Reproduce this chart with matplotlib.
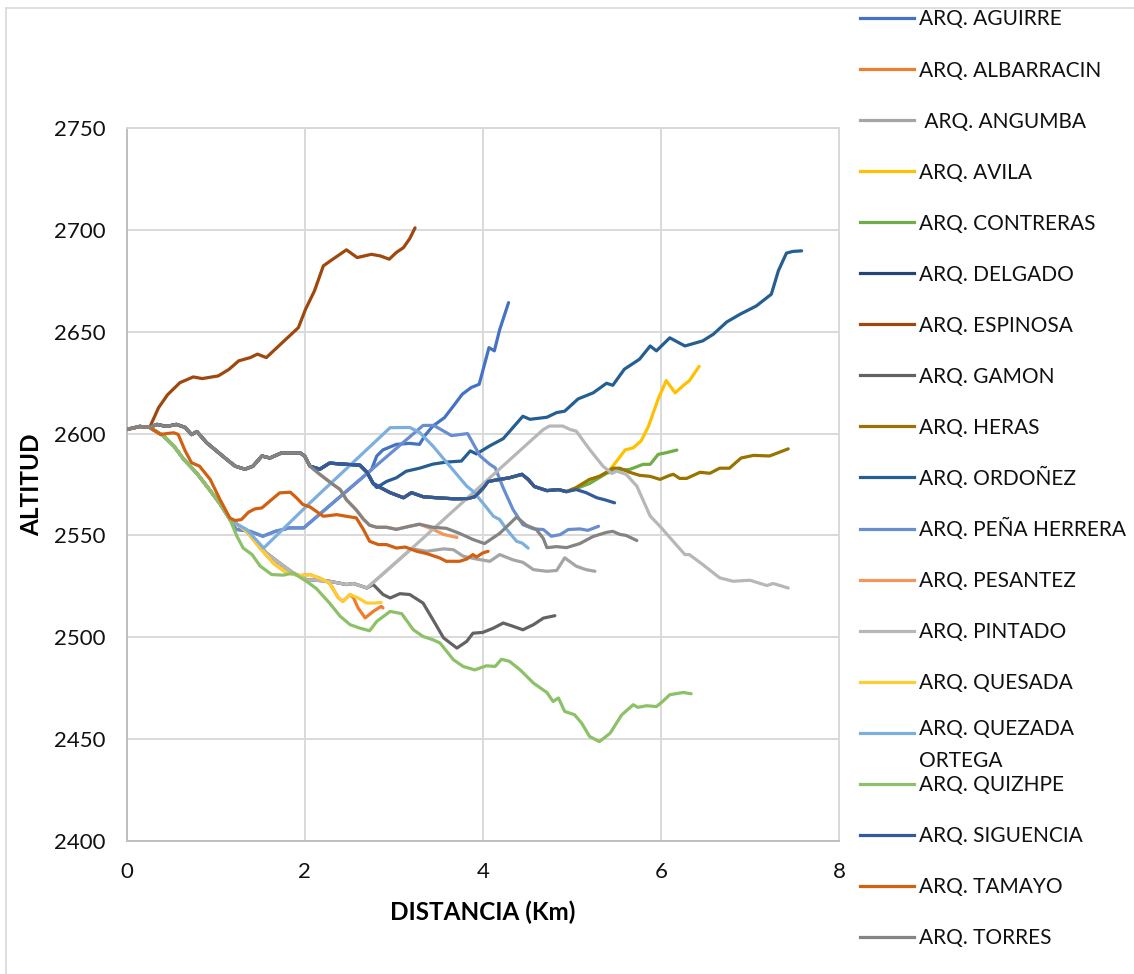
import matplotlib
matplotlib.use("Agg")
import matplotlib.pyplot as plt
from matplotlib.lines import Line2D
import numpy as np

plt.rcParams['font.family'] = ['Lato', 'DejaVu Sans']

# shared start of every route
trunk_x = [0, 0.15, 0.26]
trunk_y = [2602, 2603.5, 2603]

# upper path (Torres and the ones that split from it)
upper_x = [0.34, 0.45, 0.56, 0.66, 0.73, 0.79, 0.90, 1.01, 1.12, 1.22, 1.33, 1.42, 1.52, 1.61, 1.74, 1.95, 2.00, 2.06]
upper_y = [2604.5, 2603.5, 2604.5, 2603, 2599.5, 2601, 2595.5, 2591.5, 2587.5, 2584, 2582.5, 2584, 2589, 2588, 2590.5, 2590.5, 2589, 2584]

torres_x = [2.17, 2.32, 2.40, 2.47, 2.58, 2.66, 2.73, 2.81, 2.92, 3.03, 3.18, 3.29, 3.44, 3.59, 3.74, 3.89, 4.02, 4.19,
            4.38, 4.49, 4.60, 4.68, 4.72, 4.83, 4.94, 5.09, 5.24, 5.39, 5.46, 5.54, 5.61, 5.73]
torres_y = [2580, 2575, 2572.5, 2567.5, 2562.5, 2558, 2555, 2554, 2554, 2553, 2554.5, 2555.5, 2554, 2553.5, 2551, 2548, 2546, 2551,
            2559, 2555, 2553, 2548.5, 2544, 2544.5, 2544, 2546, 2549.5, 2551.5, 2552, 2550.5, 2550, 2547.5]

pesantez_x = [3.44, 3.56, 3.71]
pesantez_y = [2553, 2550.5, 2549]

delgado_x = [2.17, 2.28, 2.43, 2.62, 2.70, 2.77, 2.85, 2.96, 3.11, 3.20, 3.33, 3.48, 3.67, 3.82, 3.91, 4.0, 4.06, 4.19,
             4.30, 4.44, 4.51, 4.58, 4.72, 4.85, 4.94]
delgado_y = [2582.5, 2585.5, 2585, 2584.5, 2581, 2575.5, 2573.5, 2571, 2568.5, 2571, 2569, 2568.5, 2568, 2568, 2569, 2573, 2576.5, 2577.5,
             2578.3, 2580, 2577.5, 2574, 2572, 2572.5, 2571.5]

siguencia_x = [5.05, 5.16, 5.28, 5.37, 5.48]
siguencia_y = [2572.5, 2571, 2568.5, 2567.5, 2566]

heras_x = [5.05, 5.20, 5.31, 5.41, 5.46, 5.54, 5.65, 5.76, 5.88, 5.99, 6.10, 6.14, 6.21, 6.29, 6.44, 6.55, 6.66, 6.77,
           6.90, 7.04, 7.22, 7.43]
heras_y = [2573.5, 2577.5, 2579, 2581.5, 2583, 2583, 2581, 2579.5, 2579, 2577.5, 2579.5, 2580, 2578, 2578, 2581, 2580.5, 2583, 2583,
           2588, 2589.3, 2589, 2592.5]

avila_x = [5.46, 5.60, 5.69, 5.78, 5.86, 5.97, 6.06, 6.16, 6.25, 6.32, 6.43]
avila_y = [2584, 2592, 2593, 2596.5, 2603.5, 2617, 2626, 2620, 2623.5, 2626, 2633]

contreras_x = [5.05, 5.20, 5.39, 5.50, 5.65, 5.80, 5.88, 5.97, 6.06, 6.18]
contreras_y = [2573, 2575.5, 2580.5, 2582, 2582.4, 2584.9, 2584.9, 2589.8, 2590.6, 2591.9]

ordonez_x = [2.81, 2.92, 3.03, 3.14, 3.29, 3.44, 3.59, 3.76, 3.86, 3.93, 4.08, 4.23, 4.34, 4.45, 4.53, 4.72, 4.83, 4.92,
             5.07, 5.24, 5.39, 5.46, 5.59, 5.76, 5.88, 5.95, 6.10, 6.27, 6.47, 6.59, 6.74, 6.89, 7.07, 7.24, 7.32, 7.41,
             7.48, 7.58]
ordonez_y = [2573.5, 2576.5, 2578.3, 2581.5, 2583, 2585, 2586, 2586.5, 2591.5, 2590, 2594, 2597.5, 2603, 2608.5, 2607, 2608, 2610.3, 2611,
             2617, 2620, 2624.7, 2623.7, 2631.6, 2636.5, 2643, 2640.6, 2647, 2643, 2645.5, 2648.8, 2654.8, 2658.6, 2662.6, 2668.4, 2680, 2688.6,
             2689.4, 2689.7]

espinosa_x = [0.36, 0.46, 0.60, 0.75, 0.85, 1.03, 1.15, 1.26, 1.39, 1.47, 1.57, 1.67, 1.79, 1.93, 2.01, 2.11, 2.21, 2.29,
              2.37, 2.47, 2.59, 2.75, 2.85, 2.95, 3.03, 3.11, 3.18, 3.24]
espinosa_y = [2612.7, 2619, 2625, 2627.8, 2627, 2628.3, 2631.5, 2635.7, 2637.3, 2639, 2637.3, 2641.4, 2646.3, 2652, 2661, 2670, 2682.3, 2684.8,
              2687.2, 2690.2, 2686.4, 2688, 2687.2, 2685.6, 2688.9, 2691.3, 2695.7, 2701]

tamayo_x = [0.38, 0.53, 0.58, 0.66, 0.73, 0.82, 0.94, 1.05, 1.16, 1.22, 1.29, 1.37, 1.44, 1.52, 1.63, 1.72, 1.84, 1.91,
            1.98, 2.06, 2.21, 2.36, 2.47, 2.58, 2.66, 2.73, 2.83, 2.92, 3.03, 3.13, 3.26, 3.37, 3.52, 3.59, 3.74, 3.82,
            3.89, 3.93, 4.0, 4.06]
tamayo_y = [2599.6, 2600.4, 2599.6, 2591.4, 2585.7, 2584, 2577.5, 2567.6, 2558.6, 2557.3, 2557.8, 2561.4, 2563, 2563.5, 2567.6, 2570.9, 2571.2, 2568.4,
            2565.2, 2564, 2559.4, 2560.2, 2559.4, 2558.6, 2552.9, 2547.1, 2545.5, 2545.5, 2543.8, 2544.3, 2542.2, 2541.1, 2538.9, 2537.3, 2537.3, 2538.4,
            2540.6, 2539.4, 2541.4, 2542.2]

# lower path (descends with the green line)
lower_x = [0.41, 0.53, 0.64, 0.79, 0.94, 1.05, 1.16]
lower_y = [2599, 2594, 2587.5, 2580.5, 2572, 2565.5, 2558]

quizhpe_x = [1.24, 1.31, 1.41, 1.50, 1.63, 1.76, 1.87, 2.02, 2.13, 2.28, 2.40, 2.51, 2.62, 2.73, 2.81, 2.96, 3.09, 3.22,
             3.33, 3.44, 3.52, 3.67, 3.78, 3.91, 4.04, 4.14, 4.21, 4.30, 4.42, 4.57, 4.72, 4.79, 4.85, 4.92, 5.03, 5.11,
             5.20, 5.31, 5.43, 5.56, 5.69, 5.74, 5.84, 5.95, 6.02, 6.10, 6.25, 6.34]
quizhpe_y = [2549.6, 2543.8, 2540.6, 2535, 2530.8, 2530.5, 2531.6, 2527.5, 2524, 2516.8, 2510.3, 2506.2, 2504.5, 2503.2, 2507.8, 2512.7, 2511.6, 2503.7,
             2500.4, 2498.8, 2497.2, 2489, 2485.7, 2484, 2486, 2485.7, 2489.2, 2488.2, 2484, 2477.5, 2472.9, 2468.5, 2470.2, 2463.6, 2462, 2457.9,
             2451.3, 2448.8, 2452.9, 2461.9, 2466.9, 2465.6, 2466.4, 2466, 2468.5, 2471.8, 2472.9, 2472.3]

quesada_x = [1.35, 1.50, 1.65, 1.80, 1.95, 2.06, 2.17, 2.28, 2.38, 2.43, 2.51, 2.60, 2.70, 2.79, 2.86]
quesada_y = [2552, 2543.8, 2536.4, 2531.6, 2530.3, 2530.8, 2529, 2526.6, 2519.3, 2517.6, 2521, 2519.3, 2516.8, 2516.8, 2517.1]

albarracin_x = [2.55, 2.60, 2.68, 2.77, 2.86, 2.88]
albarracin_y = [2519.3, 2514.4, 2509.5, 2512.7, 2515.2, 2514.4]

pintado_low_x = [1.35, 1.57, 1.72, 1.87, 2.02, 2.28, 2.47, 2.55, 2.70]
pintado_low_y = [2552, 2541.4, 2536.4, 2531.6, 2528.3, 2527.5, 2525.9, 2526.4, 2524.2]

pintado_x = [3.20, 3.97, 4.68, 4.75, 4.90, 4.98, 5.05, 5.20, 5.35, 5.45, 5.50, 5.61, 5.73, 5.88, 5.99, 6.10, 6.27, 6.32,
             6.47, 6.66, 6.81, 7.00, 7.19, 7.26, 7.43]
pintado_y = [2543.5, 2574, 2602, 2603.7, 2603.7, 2602, 2601.2, 2592.2, 2584, 2580.4, 2581.6, 2580, 2574.2, 2559.5, 2554.5, 2549, 2540.6, 2540.6,
             2535.7, 2529.2, 2527.5, 2528, 2525.4, 2526.4, 2524.2]

angumba_x = [3.37, 3.56, 3.67, 3.78, 3.93, 4.08, 4.19, 4.34, 4.45, 4.57, 4.72, 4.83, 4.92, 5.05, 5.16, 5.26]
angumba_y = [2542.2, 2543.4, 2543, 2539.8, 2538.4, 2537.3, 2540.6, 2538, 2536.8, 2533.2, 2532.4, 2532.8, 2539, 2534.9, 2533.2, 2532.4]

gamon_x = [2.77, 2.88, 2.96, 3.07, 3.18, 3.33, 3.44, 3.56, 3.71, 3.82, 3.89, 4.0, 4.12, 4.23, 4.34, 4.45, 4.57, 4.68, 4.81]
gamon_y = [2525.9, 2521, 2519.3, 2521.4, 2521, 2516.8, 2508.7, 2499.7, 2494.7, 2498, 2502, 2502.4, 2504.5, 2507, 2505.4, 2503.7, 2506.2, 2509.4, 2510.6]

pena_x = [1.23, 1.39, 1.53, 1.67, 1.83, 1.99, 3.33, 3.45, 3.65, 3.83, 3.97, 4.08, 4.14, 4.23, 4.34, 4.45, 4.57, 4.68,
          4.77, 4.87, 4.96, 5.09, 5.18, 5.30]
pena_y = [2553, 2552, 2549.6, 2552, 2553.7, 2553.7, 2604, 2604, 2599, 2600, 2589, 2584.9, 2583.2, 2573.3, 2562.7, 2555.3, 2553.2, 2552.9,
          2549.6, 2550.4, 2552.9, 2553.2, 2552.5, 2554.5]

aguirre_x = [2.75, 2.81, 2.88, 3.03, 3.18, 3.29, 3.35, 3.44, 3.57, 3.67, 3.77, 3.87, 3.96, 4.07, 4.13, 4.19, 4.29]
aguirre_y = [2582.2, 2589, 2592, 2594.7, 2595.2, 2594.7, 2599, 2603.7, 2607.8, 2613.5, 2619.3, 2622.6, 2624.2, 2642.2, 2640.6, 2651, 2664.3]

quezada_x = [1.22, 1.35, 1.54, 2.06, 2.96, 3.18, 3.29, 3.44, 3.63, 3.82, 3.89, 4.0, 4.12, 4.19, 4.27, 4.38, 4.44, 4.51]
quezada_y = [2556, 2552.9, 2543.8, 2566, 2602.9, 2603, 2600.6, 2593.9, 2584, 2574.2, 2571.7, 2566, 2559.4, 2557.8, 2552.9, 2547.1, 2546.3, 2543.8]

names = ["ARQ. AGUIRRE", "ARQ. ALBARRACIN", " ARQ. ANGUMBA", "ARQ. AVILA", "ARQ. CONTRERAS", "ARQ. DELGADO",
         "ARQ. ESPINOSA", "ARQ. GAMON", "ARQ. HERAS", "ARQ. ORDOÑEZ", "ARQ. PEÑA HERRERA", "ARQ. PESANTEZ",
         "ARQ. PINTADO", "ARQ. QUESADA", "ARQ. QUEZADA\nORTEGA", "ARQ. QUIZHPE", "ARQ. SIGUENCIA", "ARQ. TAMAYO",
         "ARQ. TORRES"]
colors = ["#4472C4", "#ED7D31", "#A5A5A5", "#FFC000", "#70AD47", "#264478", "#9E480E", "#636363", "#997300",
          "#255E91", "#698ED0", "#F1975A", "#B7B7B7", "#FFCD33", "#7CAFDD", "#8CC168", "#335AA1", "#D26012",
          "#848484"]


def cut(xs, ys, xmax):
    return [x for x in xs if x <= xmax], [y for x, y in zip(xs, ys) if x <= xmax]


def join(*parts):
    xs, ys = [], []
    for px, py in parts:
        xs += list(px)
        ys += list(py)
    return xs, ys


trunk = (trunk_x, trunk_y)
upper = (upper_x, upper_y)
lower = (lower_x, lower_y)
delg = join(trunk, upper, (delgado_x, delgado_y))
pena = join(trunk, lower, (pena_x, pena_y))
pint_low = join(trunk, lower, (pintado_low_x, pintado_low_y))
pint = join(pint_low, (pintado_x, pintado_y))
ques = join(trunk, lower, (quesada_x, quesada_y))
torr = join(trunk, upper, (torres_x, torres_y))
heras = join(delg, (heras_x, heras_y))

series = [
    join(cut(*pena, 1.99), (aguirre_x, aguirre_y)),
    join(cut(*ques, 2.51), (albarracin_x, albarracin_y)),
    join(cut(*pint, 3.20), (angumba_x, angumba_y)),
    join(cut(*heras, 5.41), (avila_x, avila_y)),
    join(delg, (contreras_x, contreras_y)),
    delg,
    join(trunk, (espinosa_x, espinosa_y)),
    join(pint_low, (gamon_x, gamon_y)),
    heras,
    join(cut(*delg, 2.77), (ordonez_x, ordonez_y)),
    pena,
    join(cut(*torr, 3.29), (pesantez_x, pesantez_y)),
    pint,
    ques,
    join(trunk, lower, (quezada_x, quezada_y)),
    join(trunk, lower, (quizhpe_x, quizhpe_y)),
    join(delg, (siguencia_x, siguencia_y)),
    join(trunk, (tamayo_x, tamayo_y)),
    torr,
]

W, H = 1134, 974
fig = plt.figure(figsize=(W / 100, H / 100), dpi=100)
ax = fig.add_axes([126.5 / W, 133 / H, 712.5 / W, 713 / H])

for (xs, ys), c in zip(series, colors):
    ax.plot(xs, ys, color=c, lw=2.3, solid_joinstyle='round', solid_capstyle='round', zorder=3)

ax.set_xlim(0, 8)
ax.set_ylim(2400, 2750)
ax.set_xticks(np.arange(0, 9, 2))
ax.set_yticks(np.arange(2400, 2751, 50))
ax.grid(True, color='#D9D9D9', lw=1.4, zorder=0)
ax.set_axisbelow(True)
ax.tick_params(length=0, labelsize=16, pad=15, labelcolor='#111111')
for side in ['left', 'bottom']:
    ax.spines[side].set_color('#BFBFBF')
    ax.spines[side].set_linewidth(1.4)
for side in ['top', 'right']:
    ax.spines[side].set_color('#D9D9D9')
    ax.spines[side].set_linewidth(1.4)

ax.set_xlabel('DISTANCIA (Km)', fontsize=17.5, fontweight='bold')
ax.set_ylabel('ALTITUD', fontsize=17.5, fontweight='bold')
ax.xaxis.set_label_coords(0.5, (841 - 912) / 713)
ax.xaxis.label.set_va('center')
ax.yaxis.set_label_coords((32 - 126.5) / 712.5, 0.5)
ax.yaxis.label.set_va('center')

# chart border
fig.add_artist(Line2D([6 / W, 6 / W], [0, 1 - 8 / H], color='#D9D9D9', lw=1.2))
fig.add_artist(Line2D([6 / W, 1], [1 - 8 / H, 1 - 8 / H], color='#D9D9D9', lw=1.2))

# legend
for i, (name, c) in enumerate(zip(names, colors)):
    yc = 18 + 51.05 * i
    fig.add_artist(Line2D([860 / W, 914 / W], [1 - yc / H, 1 - yc / H], color=c, lw=2.3))
    extra = 27 * name.count('\n')
    fig.text(919 / W, 1 - (yc + 7.5 + extra) / H, name, fontsize=15, va='baseline', ha='left',
             color='#111111', linespacing=1.78)

fig.savefig('out.png', dpi=100)
